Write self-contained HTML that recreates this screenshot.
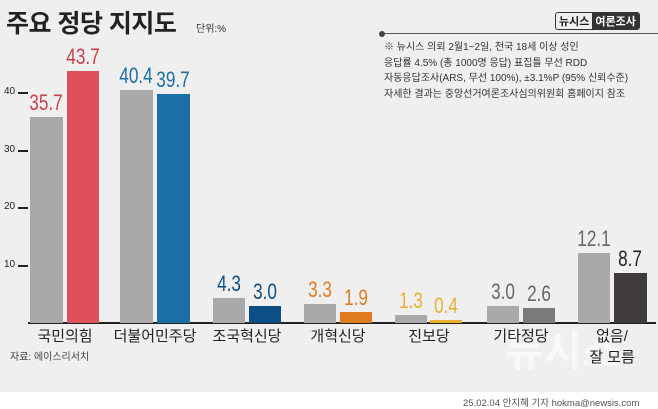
<!DOCTYPE html>
<html><head><meta charset="utf-8"><style>
*{margin:0;padding:0;box-sizing:border-box}
body{width:658px;height:409px;overflow:hidden;background:#fff;font-family:"Liberation Sans","Noto Sans CJK KR",sans-serif;position:relative}
.bg{position:absolute;left:0;top:0;width:658px;height:392px;background:#efefef}
.a{position:absolute;white-space:nowrap}
.bar{position:absolute}
.v{position:absolute;font-family:"Liberation Sans",sans-serif;font-size:22px;text-align:center;width:50px;transform:scaleX(0.78)}
.t{position:absolute;font-size:10px;color:#222;left:4px}
.tk{position:absolute;left:18px;width:10px;height:1.5px;background:#222}
.c{position:absolute;font-size:15px;color:#222;text-align:center;width:100px;line-height:21px}
</style></head><body>
<div class="bg"></div>
<div class="a" style="left:6px;top:4px;font-size:25px;font-weight:bold;color:#222;letter-spacing:-0.5px">주요 정당 지지도</div>
<div class="a" style="left:196px;top:20px;font-size:10px;color:#333">단위:%</div>
<div class="a" style="left:555px;top:12px;font-size:11px;font-weight:bold;border:1.5px solid #333;border-radius:3px;overflow:hidden;display:flex"><span style="padding:0 3px;color:#222">뉴시스</span><span style="background:#333;color:#fff;padding:0 3px">여론조사</span></div>
<div class="a" style="left:380px;top:33px;width:278px;height:1px;background:#555"></div>
<div class="a" style="left:379px;top:31px;width:6px;height:6px;border-radius:50%;background:#444"></div>
<div class="a" style="left:384px;top:40px;font-size:10px;color:#333;line-height:15.5px">※ 뉴시스 의뢰 2월1~2일, 전국 18세 이상 성인<br>응답률 4.5% (총 1000명 응답) 표집틀 무선 RDD<br>자동응답조사(ARS, 무선 100%), ±3.1%P (95% 신뢰수준)<br>자세한 결과는 중앙선거여론조사심의위원회 홈페이지 참조</div>

<div class="t" style="top:86px">40</div><div class="tk" style="top:92px"></div>
<div class="t" style="top:144px">30</div><div class="tk" style="top:150px"></div>
<div class="t" style="top:201px">20</div><div class="tk" style="top:207px"></div>
<div class="t" style="top:259px">10</div><div class="tk" style="top:265px"></div>

<div class="a" style="left:505px;top:318px;font-size:42px;font-weight:bold;color:#fff;opacity:0.6">뉴시스</div>

<div class="a" style="left:28px;top:322px;width:628px;height:1.5px;background:#222"></div>

<div class="bar" style="left:30px;top:117px;width:33px;height:206px;background:#a9a9a9"></div>
<div class="bar" style="left:67px;top:71px;width:32px;height:252px;background:#e0505a"></div>
<div class="bar" style="left:120px;top:90px;width:33px;height:233px;background:#a9a9a9"></div>
<div class="bar" style="left:157px;top:94px;width:33px;height:229px;background:#1b6fa5"></div>
<div class="bar" style="left:213px;top:298px;width:32px;height:25px;background:#a9a9a9"></div>
<div class="bar" style="left:249px;top:306px;width:32px;height:17px;background:#0b4f86"></div>
<div class="bar" style="left:304px;top:304px;width:32px;height:19px;background:#a9a9a9"></div>
<div class="bar" style="left:340px;top:312px;width:32px;height:11px;background:#e07a20"></div>
<div class="bar" style="left:395px;top:315px;width:32px;height:8px;background:#a9a9a9"></div>
<div class="bar" style="left:430px;top:320px;width:32px;height:3px;background:#e8b030"></div>
<div class="bar" style="left:487px;top:306px;width:32px;height:17px;background:#a9a9a9"></div>
<div class="bar" style="left:523px;top:308px;width:32px;height:15px;background:#7a7a7a"></div>
<div class="bar" style="left:578px;top:253px;width:32px;height:70px;background:#a9a9a9"></div>
<div class="bar" style="left:614px;top:273px;width:33px;height:50px;background:#3f3b3b"></div>

<div class="v" style="left:21px;top:90px;color:#c9404a">35.7</div>
<div class="v" style="left:58px;top:44px;color:#c9404a">43.7</div>
<div class="v" style="left:111px;top:63px;color:#1b6fa5">40.4</div>
<div class="v" style="left:148px;top:67px;color:#1b6fa5">39.7</div>
<div class="v" style="left:204px;top:271px;color:#0b4f86">4.3</div>
<div class="v" style="left:240px;top:279px;color:#0b4f86">3.0</div>
<div class="v" style="left:295px;top:277px;color:#e07a20">3.3</div>
<div class="v" style="left:331px;top:285px;color:#e07a20">1.9</div>
<div class="v" style="left:386px;top:288px;color:#e8b030">1.3</div>
<div class="v" style="left:421px;top:293px;color:#e8b030">0.4</div>
<div class="v" style="left:478px;top:279px;color:#666">3.0</div>
<div class="v" style="left:514px;top:281px;color:#666">2.6</div>
<div class="v" style="left:569px;top:226px;color:#666">12.1</div>
<div class="v" style="left:605px;top:246px;color:#222">8.7</div>

<div class="c" style="left:15px;top:326px">국민의힘</div>
<div class="c" style="left:105px;top:326px">더불어민주당</div>
<div class="c" style="left:197px;top:326px">조국혁신당</div>
<div class="c" style="left:288px;top:326px">개혁신당</div>
<div class="c" style="left:379px;top:326px">진보당</div>
<div class="c" style="left:471px;top:326px">기타정당</div>
<div class="c" style="left:562px;top:326px">없음/<br>잘 모름</div>

<div class="a" style="left:10px;top:348px;font-size:10px;color:#444">자료: 에이스리서치</div>
<div class="a" style="left:463px;top:395px;font-size:9.5px;color:#555">25.02.04 안지혜 기자 hokma@newsis.com</div>
</body></html>
